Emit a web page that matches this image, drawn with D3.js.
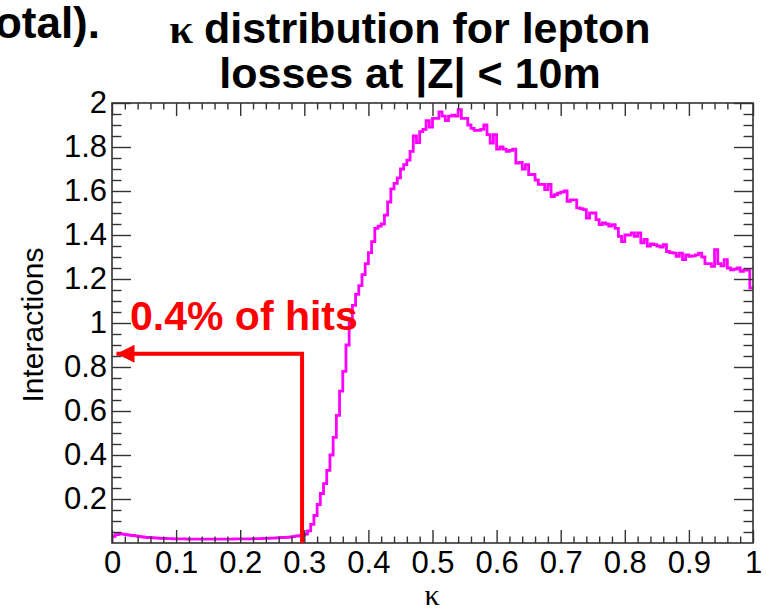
<!DOCTYPE html>
<html>
<head>
<meta charset="utf-8">
<script src="https://cdn.jsdelivr.net/npm/d3@7"></script>
<style>
  body { margin: 0; background: #fff; }
  text { font-family: "Liberation Sans", Arial, sans-serif; }
</style>
</head>
<body>
<div id="chart"></div>
<script>
// histogram: 200 bins of width 0.005 over kappa in [0, 1]
var binLo = 0, binHi = 1;
var counts = [
  0.030, 0.038, 0.041, 0.040, 0.038, 0.036, 0.034, 0.032, 0.030, 0.028,
  0.026, 0.025, 0.024, 0.023, 0.022, 0.021, 0.021, 0.020, 0.020, 0.019,
  0.019, 0.019, 0.019, 0.018, 0.018, 0.018, 0.018, 0.018, 0.018, 0.018,
  0.018, 0.018, 0.018, 0.018, 0.018, 0.018, 0.018, 0.018, 0.019, 0.019,
  0.019, 0.019, 0.019, 0.019, 0.020, 0.020, 0.020, 0.021, 0.021, 0.022,
  0.022, 0.023, 0.024, 0.025, 0.026, 0.027, 0.029, 0.031, 0.033, 0.036,
  0.040, 0.055, 0.085, 0.125, 0.175, 0.225, 0.270, 0.330, 0.400, 0.480,
  0.580, 0.690, 0.780, 0.900, 1.000, 1.080, 1.130, 1.170, 1.220, 1.270,
  1.320, 1.370, 1.430, 1.440, 1.450, 1.490, 1.550, 1.610, 1.635, 1.660,
  1.700, 1.720, 1.740, 1.780, 1.850, 1.820, 1.870, 1.880, 1.920, 1.890,
  1.930, 1.930, 1.960, 1.940, 1.920, 1.940, 1.945, 1.940, 1.970, 1.930,
  1.930, 1.900, 1.885, 1.876, 1.876, 1.880, 1.900, 1.856, 1.818, 1.856,
  1.790, 1.800, 1.790, 1.780, 1.785, 1.790, 1.727, 1.730, 1.700, 1.720,
  1.674, 1.675, 1.650, 1.630, 1.630, 1.606, 1.630, 1.575, 1.583, 1.590,
  1.595, 1.600, 1.553, 1.560, 1.560, 1.523, 1.520, 1.515, 1.477, 1.500,
  1.500, 1.470, 1.447, 1.455, 1.450, 1.440, 1.447, 1.430, 1.394, 1.370,
  1.400, 1.400, 1.410, 1.394, 1.410, 1.364, 1.380, 1.350, 1.360, 1.356,
  1.350, 1.345, 1.356, 1.325, 1.320, 1.318, 1.303, 1.318, 1.288, 1.310,
  1.303, 1.305, 1.310, 1.318, 1.300, 1.270, 1.270, 1.257, 1.333, 1.270,
  1.260, 1.288, 1.250, 1.242, 1.245, 1.250, 1.235, 1.240, 1.240, 1.160
];

var xMajor = [0, 0.1, 0.2, 0.3, 0.4, 0.5, 0.6, 0.7, 0.8, 0.9, 1];
var yMajor = [0.2, 0.4, 0.6, 0.8, 1, 1.2, 1.4, 1.6, 1.8, 2];

var titleLines = ["distribution for lepton", "losses at |Z| < 10m"];
var noteText = "0.4% of hits";
// cut position and arrow level of the annotation
var cutK = 0.2965, arrowY = 0.86;

var W = 766, H = 610;
var padL = 112, padR = 753, padT = 103, padB = 543;

var svg = d3.select("#chart").append("svg")
    .attr("width", W)
    .attr("height", H);

var x = d3.scaleLinear().domain([0, 1]).range([padL, padR]);
var y = d3.scaleLinear().domain([0, 2]).range([padB, padT]);

var xMinor = d3.range(0, 1.0001, 0.02).filter(function(d) {
    return Math.abs(d * 10 - Math.round(d * 10)) > 1e-6;
});
var yMinor = d3.range(0, 2.0001, 0.05).filter(function(d) {
    return Math.abs(d * 5 - Math.round(d * 5)) > 1e-6;
});

var fmt = function(d) { return String(+d.toFixed(1)); };

// clip for the histogram
svg.append("clipPath").attr("id", "frame")
  .append("rect")
    .attr("x", padL).attr("y", padT)
    .attr("width", padR - padL).attr("height", padB - padT);

// histogram as a step line
var bw = (binHi - binLo) / counts.length;
var pts = [[x(binLo), y(0)]];
counts.forEach(function(c, i) {
    pts.push([x(binLo + i * bw), y(c)]);
    pts.push([x(binLo + (i + 1) * bw), y(c)]);
});

svg.append("path")
    .attr("clip-path", "url(#frame)")
    .attr("d", d3.line()(pts))
    .attr("fill", "none")
    .attr("stroke", "#ff00ff")
    .attr("stroke-width", 2.8)
    .attr("stroke-linejoin", "miter");

// axes, ticks pointing inward like ROOT
function styleAxis(g) {
    g.selectAll(".domain").remove();
    g.selectAll("line").attr("stroke", "#333").attr("stroke-width", 1.4);
    g.selectAll("text")
        .attr("fill", "#000")
        .style("font-family", "'Liberation Sans', Arial, sans-serif")
        .style("font-size", "31px");
}

svg.append("g").attr("transform", "translate(0," + padB + ")")
    .call(d3.axisBottom(x).tickValues(xMajor).tickSize(-13).tickSizeOuter(0).tickPadding(8).tickFormat(fmt))
    .call(styleAxis);
svg.append("g").attr("transform", "translate(0," + padB + ")")
    .call(d3.axisBottom(x).tickValues(xMinor).tickSize(-6.5).tickSizeOuter(0).tickFormat(""))
    .call(styleAxis);
svg.append("g").attr("transform", "translate(0," + padT + ")")
    .call(d3.axisTop(x).tickValues(xMajor).tickSize(-13).tickSizeOuter(0).tickFormat(""))
    .call(styleAxis);
svg.append("g").attr("transform", "translate(0," + padT + ")")
    .call(d3.axisTop(x).tickValues(xMinor).tickSize(-6.5).tickSizeOuter(0).tickFormat(""))
    .call(styleAxis);

svg.append("g").attr("transform", "translate(" + padL + ",0)")
    .call(d3.axisLeft(y).tickValues(yMajor).tickSize(-19).tickSizeOuter(0).tickPadding(5).tickFormat(fmt))
    .call(styleAxis);
svg.append("g").attr("transform", "translate(" + padL + ",0)")
    .call(d3.axisLeft(y).tickValues(yMinor).tickSize(-9.5).tickSizeOuter(0).tickFormat(""))
    .call(styleAxis);
svg.append("g").attr("transform", "translate(" + padR + ",0)")
    .call(d3.axisRight(y).tickValues(yMajor).tickSize(-19).tickSizeOuter(0).tickFormat(""))
    .call(styleAxis);
svg.append("g").attr("transform", "translate(" + padR + ",0)")
    .call(d3.axisRight(y).tickValues(yMinor).tickSize(-9.5).tickSizeOuter(0).tickFormat(""))
    .call(styleAxis);

// frame
svg.append("rect")
    .attr("x", padL).attr("y", padT)
    .attr("width", padR - padL).attr("height", padB - padT)
    .attr("fill", "none")
    .attr("stroke", "#333")
    .attr("stroke-width", 1.6);

// red annotation: cut line and arrow
svg.append("defs").append("marker")
    .attr("id", "head")
    .attr("viewBox", "0 0 10 10")
    .attr("refX", 10).attr("refY", 5)
    .attr("markerUnits", "userSpaceOnUse")
    .attr("markerWidth", 24).attr("markerHeight", 18)
    .attr("orient", "auto")
  .append("path")
    .attr("d", "M0,0L10,5L0,10Z")
    .attr("fill", "#ff0000");

svg.append("path")
    .attr("d", d3.line()([[x(cutK), y(0)], [x(cutK), y(arrowY)], [x(0.007), y(arrowY)]]))
    .attr("fill", "none")
    .attr("stroke", "#ff0000")
    .attr("stroke-width", 4)
    .attr("marker-end", "url(#head)");

svg.append("text")
    .attr("x", 130).attr("y", 330)
    .attr("fill", "#ff0000")
    .style("font-size", "41px")
    .style("font-weight", "bold")
    .text(noteText);

// title
var title = svg.append("text")
    .attr("x", 410).attr("y", 43)
    .attr("text-anchor", "middle")
    .style("font-size", "43px")
    .style("font-weight", "bold");
title.append("tspan")
    .style("font-family", "'Liberation Serif', 'Times New Roman', serif")
    .text("\u03ba ");
title.append("tspan").text(titleLines[0]);

svg.append("text")
    .attr("x", 410).attr("y", 88)
    .attr("text-anchor", "middle")
    .style("font-size", "43px")
    .style("font-weight", "bold")
    .text(titleLines[1]);

// fragment of slide text at top-left
svg.append("text")
    .attr("x", 100).attr("y", 38)
    .attr("text-anchor", "end")
    .style("font-size", "44px")
    .style("font-weight", "bold")
    .text("(total).");

// axis titles
svg.append("text")
    .attr("transform", "translate(43,325) rotate(-90)")
    .attr("text-anchor", "middle")
    .style("font-size", "30px")
    .text("Interactions");

svg.append("text")
    .attr("x", 432).attr("y", 605)
    .attr("text-anchor", "middle")
    .style("font-family", "'Liberation Serif', 'Times New Roman', serif")
    .style("font-size", "30px")
    .text("\u03ba");
</script>
</body>
</html>
